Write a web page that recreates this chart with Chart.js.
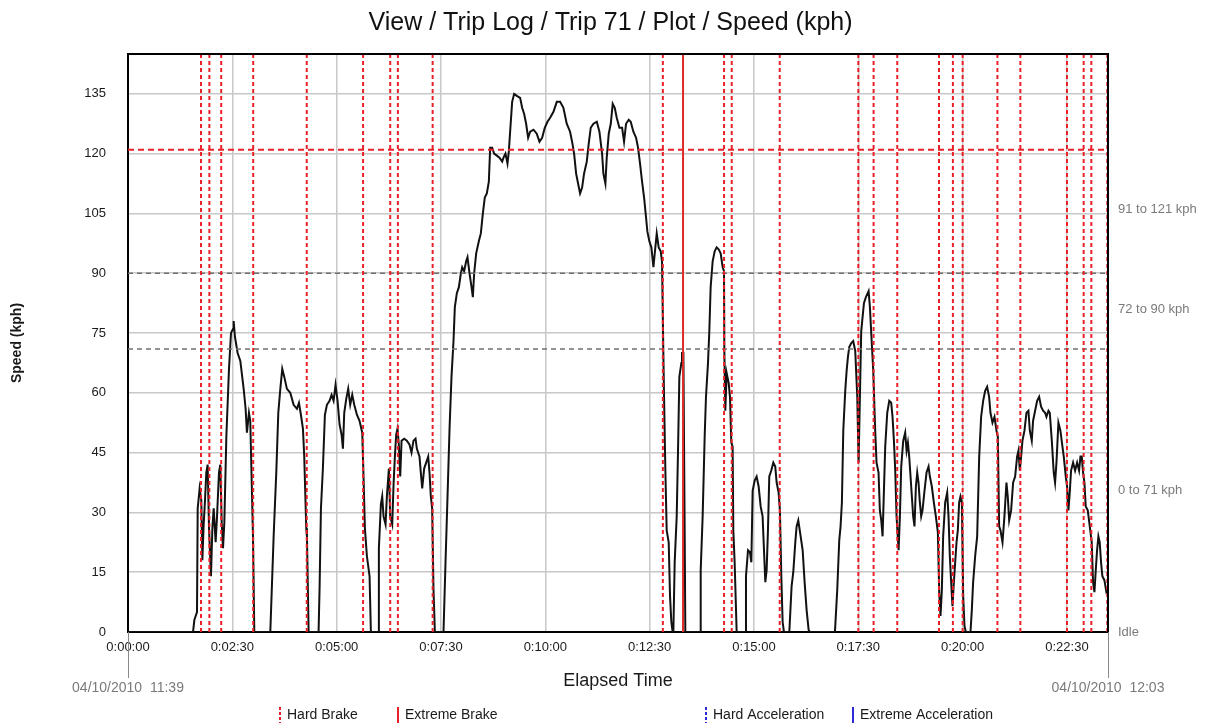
<!DOCTYPE html>
<html>
<head>
<meta charset="utf-8">
<script src="https://cdn.jsdelivr.net/npm/chart.js@4.4.0/dist/chart.umd.min.js"></script>
<style>
  body { margin: 0; background: #fff; }
  #wrap { position: relative; width: 1221px; height: 726px; }
</style>
</head>
<body>
<div id="wrap"><canvas id="speed-chart"></canvas></div>
<script>
// Trip 71 speed log, elapsed seconds vs kph
const speedTimes = [
  0, 93.5, 95.4, 99.2, 100.2, 103.0, 105.4, 106.9, 108.8, 110.7, 112.6, 114.5, 116.5, 119.3, 121.3, 123.2,
  126.0, 128.0, 130.8, 132.7, 134.7, 136.6, 138.5, 141.4, 145.2, 148.1, 151.0, 151.9, 153.8, 157.6, 161.5,
  166.3, 169.1, 171.0, 173.9, 175.8, 176.8, 179.7, 181.6, 204.6, 209.4, 213.2, 216.1, 219.0, 221.8, 224.7,
  228.5, 233.3, 238.1, 242.9, 245.8, 248.6, 251.5, 253.4, 256.3, 257.3, 259.7, 274.0, 275.5, 277.4, 280.2,
  283.1, 286.0, 289.8, 292.7, 295.6, 298.4, 301.3, 304.2, 307.1, 309.0, 310.9, 313.8, 316.6, 319.5, 322.4,
  325.3, 329.1, 332.9, 336.8, 338.7, 340.6, 343.5, 347.3, 349.2, 360.2, 360.7, 363.6, 365.5, 367.4, 370.3,
  372.2, 375.1, 377.0, 379.9, 381.8, 383.7, 385.6, 387.5, 389.4, 391.4, 393.3, 397.1, 400.9, 404.8, 407.6,
  410.5, 413.4, 415.3, 419.1, 421.0, 423.0, 425.8, 428.7, 431.6, 433.5, 435.4, 437.3, 439.2, 441.2, 453.6,
  456.5, 459.4, 462.3, 465.1, 468.0, 469.9, 472.8, 475.7, 478.6, 480.5, 483.3, 486.2, 488.1, 491.0, 493.9,
  495.8, 497.7, 500.6, 504.4, 507.3, 510.2, 513.0, 515.9, 518.8, 520.7, 523.6, 526.4, 530.3, 534.1, 538.0,
  539.9, 542.7, 545.6, 547.5, 549.4, 552.3, 555.2, 559.0, 563.8, 566.7, 569.5, 572.4, 575.3, 578.2, 583.0,
  587.7, 591.6, 595.4, 599.2, 603.1, 606.9, 611.7, 616.5, 621.3, 626.0, 630.8, 635.6, 638.5, 641.4, 644.3,
  647.1, 650.0, 652.9, 655.7, 659.6, 662.4, 665.3, 669.2, 674.0, 677.8, 681.6, 683.5, 686.4, 688.3, 691.2,
  694.1, 696.9, 699.8, 702.7, 706.5, 710.4, 713.2, 716.1, 719.9, 722.8, 726.6, 730.5, 733.3, 736.2, 739.1,
  742.0, 744.8, 746.7, 749.6, 752.5, 755.4, 758.2, 760.2, 763.0, 765.9, 767.8, 769.7, 770.7, 772.6, 774.5,
  777.4, 779.3, 781.2, 783.1, 784.1, 786.0, 788.9, 790.8, 792.7, 795.6, 796.5, 798.5, 800.4, 801.3, 822.4,
  823.4, 826.2, 829.1, 831.0, 833.9, 835.8, 837.7, 840.6, 843.5, 846.3, 849.2, 852.1, 855.0, 856.9, 857.4,
  858.8, 860.7, 863.6, 865.5, 867.4, 869.3, 870.3, 872.2, 875.1, 888.0, 888.5, 891.4, 894.2, 896.2, 898.1,
  901.0, 903.8, 906.7, 909.6, 912.4, 914.4, 916.3, 918.2, 920.1, 922.0, 924.9, 927.8, 930.6, 932.6, 935.4,
  937.3, 939.3, 941.2, 943.1, 950.8, 954.1, 956.5, 959.4, 961.3, 963.7, 967.1, 970.0, 972.8, 975.7, 978.6,
  980.5, 1016.4, 1019.7, 1022.6, 1024.5, 1026.4, 1028.4, 1031.2, 1033.2, 1035.1, 1037.0, 1039.9, 1042.7,
  1045.6, 1048.5, 1050.4, 1052.3, 1054.2, 1058.1, 1060.9, 1064.8, 1066.7, 1068.6, 1071.5, 1074.3, 1076.2,
  1079.1, 1081.0, 1083.0, 1084.9, 1088.7, 1091.6, 1094.5, 1097.3, 1099.2, 1101.2, 1103.1, 1105.0, 1107.9,
  1109.8, 1111.7, 1114.6, 1117.4, 1119.4, 1121.3, 1123.2, 1125.1, 1127.0, 1128.9, 1130.8, 1132.8, 1134.7,
  1136.6, 1138.5, 1140.4, 1142.3, 1145.2, 1148.1, 1151.0, 1152.9, 1155.7, 1158.6, 1161.5, 1164.4, 1166.3,
  1168.2, 1170.1, 1172.0, 1174.9, 1177.8, 1179.7, 1181.6, 1183.5, 1185.4, 1187.4, 1189.3, 1191.2, 1193.1,
  1195.0, 1196.9, 1198.9, 1200.8, 1202.7, 1204.6, 1211.3, 1213.2, 1215.1, 1218.0, 1220.9, 1223.8, 1226.6,
  1229.5, 1232.4, 1235.2, 1238.1, 1240.0, 1242.9, 1245.8, 1248.7, 1250.6, 1252.5, 1254.4, 1257.3, 1260.1,
  1263.0, 1264.9, 1266.9, 1269.7, 1272.6, 1275.5, 1278.3, 1280.3, 1282.2, 1284.1, 1286.0, 1288.9, 1291.8,
  1294.6, 1296.6, 1299.4, 1301.3, 1304.2, 1307.1, 1310.0, 1312.8, 1315.7, 1318.6, 1320.5, 1323.4, 1325.3,
  1328.2, 1331.0, 1332.9, 1334.9, 1337.7, 1340.6, 1343.5, 1345.4, 1348.3, 1350.2, 1352.1, 1354.0, 1355.9,
  1358.8, 1361.7, 1364.6, 1367.4, 1369.4, 1371.3, 1373.2, 1375.1, 1377.0, 1379.9, 1382.8, 1385.6, 1387.5,
  1389.5, 1391.4, 1393.3, 1395.2, 1397.1, 1399.0, 1400.9, 1403.8, 1406.7, 1408.6
];
const speedValues = [
  0, 0, 3, 5, 31, 36, 33, 18, 27, 33, 40, 42, 26, 14, 26, 31,
  22.5, 29, 40, 42, 27.5, 21, 27.5, 49, 66, 75, 76, 78, 74, 70, 68,
  61, 56, 50, 55, 53, 53, 24, 0, 0, 24, 40, 55, 61, 66, 64,
  61, 60, 57, 56, 57.5, 54.5, 51, 44, 26, 24, 0, 0, 11.5, 31, 41,
  54.5, 57, 58, 59.5, 58, 62, 58, 52, 49.5, 46, 55, 58.5, 61, 57, 59.5,
  57, 54.5, 53, 50, 38.5, 26, 19, 14, 0, 0, 21, 32, 34, 29, 27,
  34, 41, 29, 27, 37, 44, 49.5, 51, 47, 39, 48, 48.5, 48, 47, 45,
  48, 48.5, 46, 44, 40, 36, 41, 42.5, 44, 40, 34, 31, 11, 0, 0,
  17.5, 34, 51, 64, 73, 81.5, 85, 86.5, 90, 91.5, 90.5, 93, 94, 90, 86.5,
  84, 90, 95, 98, 100, 105, 109, 110, 113, 121.5, 121.5, 120, 119.5, 119, 118,
  119, 120, 117.5, 120.5, 125.5, 133, 135, 134.5, 134, 131.5, 130, 127.5, 124, 125.5, 126,
  125, 123, 124, 126.5, 128, 129, 130.5, 133, 133, 131.5, 127.5, 125.5, 123, 120, 115,
  112.5, 110, 111.5, 115, 118, 122.5, 126.5, 127.5, 128, 125.5, 120, 115, 112.5, 119, 125,
  127.5, 132.5, 131.5, 129, 126.5, 126.5, 123, 127.5, 128.5, 128, 125.5, 124, 121.5, 117.5, 113,
  109, 104, 100.5, 98, 96.5, 91.5, 96.5, 100, 96.5, 95.5, 93, 70, 59, 40.5, 25.5,
  22.5, 9, 2.5, 0, 0, 17.5, 29, 45.5, 64, 67.5, 70, 70, 24, 0, 0,
  15.5, 29, 49, 59, 67.5, 75.5, 86.5, 93, 95.5, 96.5, 96, 95, 91.5, 90.5, 70.5,
  55.5, 65, 62.5, 59, 47.5, 46.5, 25.5, 17.5, 0, 0, 14, 20.5, 20, 17.5, 35.5,
  38, 39, 36.5, 31.5, 29, 20.5, 12.5, 15.5, 25.5, 39, 40.5, 42.5, 41.5, 37.5, 35,
  30.5, 14, 2.5, 0, 0, 11.5, 15, 22.5, 26.5, 28, 24, 20.5, 12.5, 5.5, 0.5,
  0, 0, 10.5, 23, 26.5, 32.5, 50.5, 60.5, 65.5, 69, 71.5, 72.5, 73,
  70.5, 59, 42.5, 59, 75.5, 82.5, 84, 85.5, 81.5, 75, 65.5, 50.5, 42.5,
  40, 30.5, 28, 24, 46.5, 55, 58, 57.5, 54, 48, 40.5, 29, 20.5,
  29, 41.5, 48, 50, 45.5, 47.5, 44, 39, 34, 29, 26.5, 36.5, 40,
  37.5, 32.5, 29, 30.5, 35.5, 40, 41.5, 39, 36.5, 32.5, 29, 25, 10,
  4, 10.5, 24, 32.5, 35, 29, 19, 12.5, 6.5, 12.5, 17.5, 22.5, 25.5,
  32.5, 34, 32.5, 9, 1.5, 0, 0, 5.5, 12.5, 19, 24, 44, 54,
  58, 60.5, 61.5, 59, 55, 52.5, 54, 50.5, 49, 26.5, 25.5, 22.5, 29,
  37.5, 34, 28, 30.5, 37.5, 39, 44, 45.5, 40.5, 44, 48, 50.5, 55,
  55.5, 50.5, 48, 53, 55.5, 58, 59, 56.5, 55.5, 55, 54, 55.5, 55,
  48, 40, 37.5, 42.5, 52.5, 50.5, 46.5, 44, 39, 36.5, 30.5, 35, 40.5,
  42.5, 40.5, 42.5, 40.5, 44, 44, 40, 37.5, 31.5, 30.5, 26.5, 22.5, 12.5,
  10, 15.5, 20.5, 24, 22.5, 17.5, 14, 13, 10, 10.5
];

// braking events (elapsed seconds)
const hardBrakeTimes = [105, 117, 134, 180, 257, 338, 377, 388, 438, 769, 857, 868, 937,
  1050, 1072, 1106, 1166, 1186, 1200, 1250, 1283, 1350, 1374, 1385, 1408];
const extremeBrakeTimes = [798];

// speed band limits and right-hand band labels
const bandLimitRed = [121];
const bandLimitGray = [90, 71];
const bandLabelValues = [0, 35.5, 81, 106];
const bandLabels = ['Idle', '0 to 71 kph', '72 to 90 kph', '91 to 121 kph'];

const yTickValues = [0, 15, 30, 45, 60, 75, 90, 105, 120, 135];
const xTickSeconds = [0, 150, 300, 450, 600, 750, 900, 1050, 1200, 1350];
const xTickLabels = ['0:00:00', '0:02:30', '0:05:00', '0:07:30', '0:10:00', '0:12:30', '0:15:00', '0:17:30', '0:20:00', '0:22:30'];
const tripStart = '04/10/2010  11:39';
const tripEnd = '04/10/2010  12:03';
const legendLabels = ['Hard Brake', 'Extreme Brake', 'Hard Acceleration', 'Extreme Acceleration'];

const X_MAX = 1409;
const Y_MAX = 145;
const FONT = '"Liberation Sans", Arial, sans-serif';

function verticalLines(times) {
  const pts = [];
  times.forEach(t => {
    pts.push({ x: t, y: 0 }, { x: t, y: Y_MAX }, { x: t, y: null });
  });
  return pts;
}
function horizontalLines(values) {
  const pts = [];
  values.forEach(v => {
    pts.push({ x: 0, y: v }, { x: X_MAX, y: v }, { x: X_MAX, y: null });
  });
  return pts;
}

// frame, date stamps and bottom legend
const extrasPlugin = {
  id: 'extras',
  afterDraw(chart) {
    const ctx = chart.ctx;
    const a = chart.chartArea;
    ctx.save();
    // top and right frame
    ctx.strokeStyle = '#000';
    ctx.lineWidth = 2;
    ctx.beginPath();
    ctx.moveTo(a.left, a.top);
    ctx.lineTo(a.right, a.top);
    ctx.lineTo(a.right, a.bottom);
    ctx.stroke();
    // start / end markers under the axis
    ctx.strokeStyle = '#8a8a8a';
    ctx.lineWidth = 1;
    [a.left, a.right].forEach(x => {
      ctx.beginPath();
      ctx.moveTo(x + 0.5, a.bottom);
      ctx.lineTo(x + 0.5, a.bottom + 46);
      ctx.stroke();
    });
    ctx.font = '14px ' + FONT;
    ctx.fillStyle = '#7a7a7a';
    ctx.textAlign = 'center';
    ctx.textBaseline = 'middle';
    ctx.fillText(tripStart, a.left, a.bottom + 56);
    ctx.fillText(tripEnd, a.right, a.bottom + 56);

    // legend
    const items = [
      { x: 280, color: '#e8202a', dash: [3, 2] },
      { x: 398, color: '#e8202a', dash: [] },
      { x: 706, color: '#2a2ad8', dash: [3, 2] },
      { x: 853, color: '#2a2ad8', dash: [] }
    ];
    const ly = 715;
    ctx.textAlign = 'left';
    items.forEach((it, i) => {
      ctx.strokeStyle = it.color;
      ctx.lineWidth = 2;
      ctx.setLineDash(it.dash);
      ctx.beginPath();
      ctx.moveTo(it.x, ly - 8);
      ctx.lineTo(it.x, ly + 8);
      ctx.stroke();
      ctx.setLineDash([]);
      ctx.fillStyle = '#1a1a1a';
      ctx.fillText(legendLabels[i], it.x + 7, ly);
    });
    ctx.restore();
  }
};

const ctx = document.getElementById('speed-chart').getContext('2d');
new Chart(ctx, {
  type: 'line',
  data: {
    datasets: [
      {
        label: 'Hard Brake',
        data: verticalLines(hardBrakeTimes),
        borderColor: '#e8202a',
        borderWidth: 2,
        borderDash: [4, 3],
        pointRadius: 0,
        spanGaps: false,
        order: 0
      },
      {
        label: 'Extreme Brake',
        data: verticalLines(extremeBrakeTimes),
        borderColor: '#e02a2a',
        borderWidth: 2,
        pointRadius: 0,
        spanGaps: false,
        order: 0
      },
      {
        label: 'Band 121',
        data: horizontalLines(bandLimitRed),
        borderColor: '#e8202a',
        borderWidth: 2,
        borderDash: [6, 4],
        pointRadius: 0,
        spanGaps: false,
        order: 1
      },
      {
        label: 'Band limits',
        data: horizontalLines(bandLimitGray),
        borderColor: '#707070',
        borderWidth: 1.5,
        borderDash: [5, 4],
        pointRadius: 0,
        spanGaps: false,
        order: 1
      },
      {
        label: 'Speed',
        data: speedTimes.map((t, i) => ({ x: t, y: speedValues[i] })),
        borderColor: '#111',
        borderWidth: 2,
        pointRadius: 0,
        tension: 0,
        order: 2
      }
    ]
  },
  options: {
    responsive: true,
    maintainAspectRatio: false,
    animation: false,
    layout: { padding: 0 },
    plugins: {
      legend: { display: false },
      tooltip: { enabled: false },
      title: {
        display: true,
        text: 'View / Trip Log / Trip 71 / Plot / Speed (kph)',
        color: '#111',
        font: { family: FONT, size: 25, weight: 'normal', lineHeight: 1.2 },
        padding: { top: 8, bottom: 16 }
      }
    },
    scales: {
      x: {
        type: 'linear',
        min: 0,
        max: X_MAX,
        afterBuildTicks: s => { s.ticks = xTickSeconds.map(v => ({ value: v })); },
        afterFit: s => { s.height = 94; },
        ticks: {
          callback: (v, i) => xTickLabels[i],
          color: '#1a1a1a',
          font: { family: FONT, size: 13 },
          padding: 8,
          maxRotation: 0,
          autoSkip: false
        },
        grid: { color: '#c8c8c8', lineWidth: 1.5, drawTicks: false },
        border: { color: '#000', width: 2 },
        title: {
          display: true,
          text: 'Elapsed Time',
          color: '#1a1a1a',
          font: { family: FONT, size: 18 },
          padding: { top: 0, bottom: 34 }
        }
      },
      y: {
        position: 'left',
        min: 0,
        max: Y_MAX,
        afterBuildTicks: s => { s.ticks = yTickValues.map(v => ({ value: v })); },
        afterFit: s => { s.width = 128; },
        ticks: {
          color: '#1a1a1a',
          font: { family: FONT, size: 13 },
          padding: 22
        },
        grid: { color: '#c8c8c8', lineWidth: 1.5, drawTicks: false },
        border: { color: '#000', width: 2 },
        title: {
          display: true,
          text: 'Speed (kph)',
          color: '#1a1a1a',
          font: { family: FONT, size: 14, weight: 'bold' },
          padding: { top: 9, bottom: 0 }
        }
      },
      y1: {
        position: 'right',
        min: 0,
        max: Y_MAX,
        afterBuildTicks: s => { s.ticks = bandLabelValues.map(v => ({ value: v })); },
        afterFit: s => { s.width = 113; },
        ticks: {
          callback: (v, i) => bandLabels[i],
          color: '#7a7a7a',
          font: { family: FONT, size: 13 },
          padding: 10
        },
        grid: { display: false, drawTicks: false },
        border: { display: false }
      }
    }
  },
  plugins: [extrasPlugin]
});
</script>
</body>
</html>
